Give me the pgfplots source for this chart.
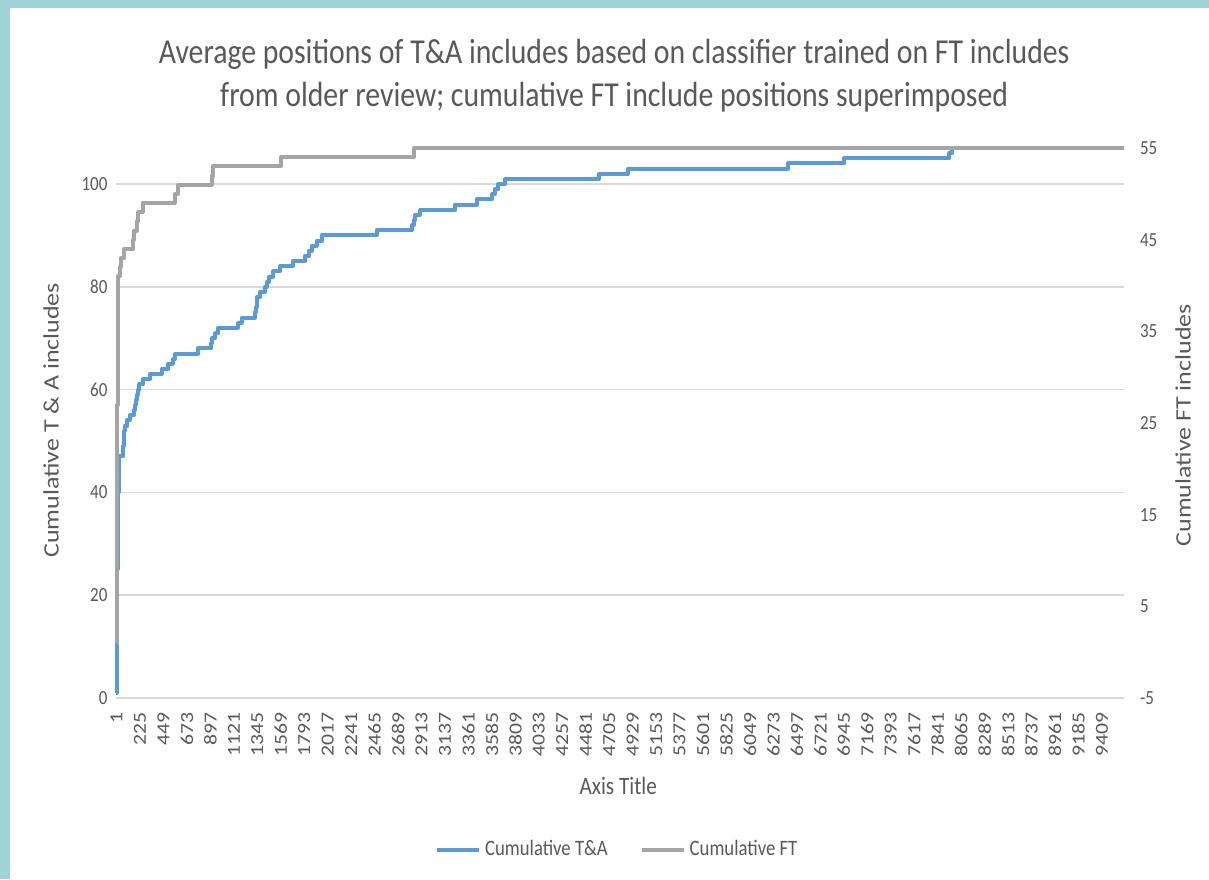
\documentclass[border=0pt]{standalone}
\usepackage{pgfplots}
\pgfplotsset{compat=1.18}
\usepackage{pgfplotstable}
\usepackage{fontspec}
\setmainfont{Carlito}[FakeStretch=0.85]
\newfontfamily\rotfont{Carlito}[FakeStretch=1.18]
\definecolor{tablue}{HTML}{5B9BD5}
\definecolor{tagray}{HTML}{A5A5A5}
\definecolor{txtgray}{HTML}{595959}
\definecolor{gridgray}{HTML}{D9D9D9}
\definecolor{frameteal}{HTML}{A0D4D8}

\pgfplotstableread{
x v
1 1
2 5
3 10
5 15
7 20
9 25
11 28
13 32
16 36
19 40
23 44
27 47
63 48
66 49
69 50
72 51
76 52
80 53
105 54
130 55
165 56
178 57
184 58
192 59
205 60
220 61
250 62
320 63
433 64
496 65
540 66
560 67
782 68
905 69
912 70
942 71
973 72
1164 73
1197 74
1324 75
1332 76
1338 77
1345 78
1372 79
1420 80
1440 81
1455 82
1499 83
1563 84
1690 85
1801 86
1840 87
1866 88
1913 89
1961 90
2486 91
2821 92
2840 93
2852 94
2900 95
3234 96
3441 97
3585 98
3610 99
3648 100
3712 101
4610 102
4887 103
6415 104
6950 105
7953 106
7975 107
9620 107
}\tadata

\pgfplotstableread{
x w
1 1
2 6
3 12
5 18
7 24
9 27
11 31
13 35
15 39
17 41
30 42
45 43
75 44
161 45
172 46
194 47
209 48
250 49
560 50
591 51
910 52
926 53
1570 54
2840 55
9620 55
}\ftdata

\begin{document}
\begin{tikzpicture}
\path[use as bounding box] (0,0) rectangle (604.5pt,439.5pt);
\fill[white] (0,0) rectangle (604.5pt,439.5pt);
\fill[frameteal] (0,435.5pt) rectangle (604.5pt,439.5pt);
\fill[frameteal] (0,0) rectangle (5pt,439.5pt);

\pgfplotsset{
  common/.style={
    scale only axis, width=503.75pt, height=275pt,
    at={(58.25pt,90.5pt)}, anchor=south west,
    xmin=1, xmax=9620, clip=false,
    major tick length=0pt,
    axis line style={draw=none},
    tick label style={font=\fontsize{10}{12}\selectfont, text=txtgray},
    /pgf/number format/.cd, 1000 sep={}, assume math mode=true
  }
}

\begin{axis}[common,
  ymin=0, ymax=107, ytick={0,20,...,100},
  ymajorgrids, major grid style={gridgray, line width=0.75pt},
  xtick={1,225,...,9409},
  xticklabel style={rotate=90, anchor=east, font=\rotfont\fontsize{9.2}{11}\selectfont, text=txtgray, xshift=-3.5pt},
  yticklabel style={xshift=-1pt},
  ylabel={Cumulative T \& A includes},
  ylabel style={at={(axis description cs:-0.065,0.505)}, anchor=center, font=\rotfont\fontsize{11}{13}\selectfont, text=txtgray},
  xlabel={Axis Title},
  xlabel style={at={(axis description cs:0.498,-0.16)}, anchor=center, font=\fontsize{12.5}{14}\selectfont, text=txtgray},
  title={Average positions of T\&A includes based on classifier trained on FT includes\\from older review; cumulative FT include positions superimposed},
  title style={at={(axis description cs:0.494,1.110)}, anchor=center, align=center, font=\fontsize{17.5}{21.5}\selectfont, text=txtgray},
]
\addplot[const plot, color=tablue, line width=2pt, line join=round] table[x=x, y=v] {\tadata};
\end{axis}

\begin{axis}[common,
  axis x line=none, axis y line*=right,
  ymin=-5, ymax=55, ytick={-5,5,...,55},
  yticklabel style={anchor=west, xshift=4.5pt},
  ylabel={Cumulative FT includes},
  ylabel style={at={(axis description cs:1.0586,0.496)}, anchor=center, rotate=0, font=\rotfont\fontsize{11}{13}\selectfont, text=txtgray},
  legend style={draw=none, fill=none, at={(axis description cs:0.498,-0.276)}, anchor=center,
    font=\fontsize{11}{12}\selectfont, text=txtgray,
    /tikz/every even column/.append style={column sep=14pt}},
  legend columns=2,
  legend image code/.code={\draw[#1] (0pt,0pt) -- (21pt,0pt);},
]
\addlegendimage{color=tablue, line width=2pt}
\addlegendentry{Cumulative T\&A}
\addplot[const plot, color=tagray, line width=2pt, line join=round] table[x=x, y=w] {\ftdata};
\addlegendentry{Cumulative FT}
\end{axis}
\end{tikzpicture}
\end{document}
